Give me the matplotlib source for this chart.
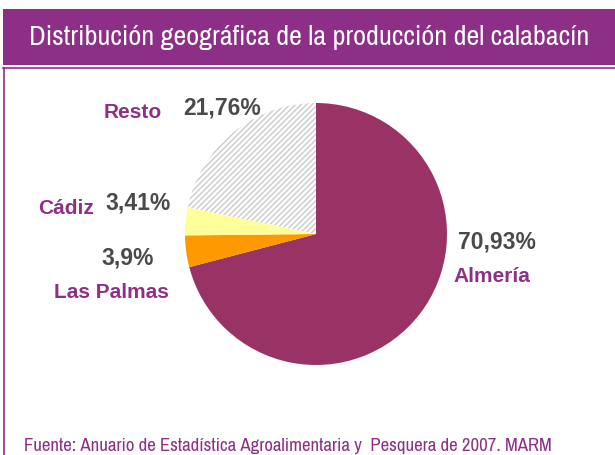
import matplotlib
matplotlib.use("Agg")
import matplotlib.pyplot as plt
from matplotlib.patches import Rectangle
from matplotlib.lines import Line2D

# data
regions = ["Almería", "Las Palmas", "Cádiz", "Resto"]
shares = [70.93, 3.9, 3.41, 21.76]
share_labels = ["70,93%", "3,9%", "3,41%", "21,76%"]
colors = ["#993366", "#FF9900", "#FFFF99", "white"]

title = "Distribución geográfica de la producción del calabacín"
source = "Fuente: Anuario de Estadística Agroalimentaria y  Pesquera de 2007. MARM"

purple = "#8D2F86"
label_purple = "#8E3088"
pct_gray = "#4A4A4A"
W, H = 615, 455

plt.rcParams["hatch.linewidth"] = 1.0
narrow = ["Liberation Sans Narrow", "Archivo Narrow", "DejaVu Sans"]
bold = ["Liberation Sans", "DejaVu Sans"]

fig = plt.figure(figsize=(W / 100, H / 100), dpi=100)
ax = fig.add_axes([0, 0, 1, 1])

# banner and frame
ax.add_patch(Rectangle((3, H - 65), W - 3, 56, facecolor=purple, edgecolor="none"))
ax.add_line(Line2D([3, W], [H - 67.5, H - 67.5], color=purple, lw=1.2))
ax.add_line(Line2D([4, 4], [0, H - 67.5], color=purple, lw=1.2))
ax.text(309, H - 38, title, color="white", fontsize=20.3, family=narrow,
        ha="center", va="center")

wedges, _ = ax.pie(shares, colors=colors, startangle=90, counterclock=False,
                   center=(316, H - 234), radius=131, frame=True,
                   wedgeprops=dict(linewidth=0))
wedges[3].set_hatch("//////")
wedges[3].set_edgecolor("#CACACA")
wedges[3].set_linewidth(0)
ax.set_xlim(0, W)
ax.set_ylim(0, H)
ax.axis("off")

# labels (name position, pct position)
name_pos = [(492, 276), (111, 293), (66, 209), (133, 112)]
pct_pos = [(497, 242), (128, 258), (138, 203), (222, 108)]
for name, pct, (nx, ny), (px, py) in zip(regions, share_labels, name_pos, pct_pos):
    ax.text(nx, H - ny, name, color=label_purple, fontsize=15,
            fontweight="bold", family=bold, ha="center", va="center")
    ax.text(px, H - py, pct, color=pct_gray, fontsize=16.5,
            fontweight="bold", family=bold, ha="center", va="center")

ax.text(24, H - 446, source, color=label_purple, fontsize=13.5, family=narrow,
        ha="left", va="center")

fig.savefig("out.png", dpi=100)
